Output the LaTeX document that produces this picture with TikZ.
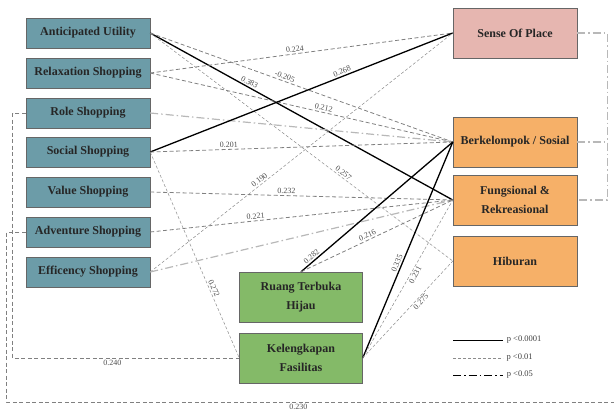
\documentclass[tikz,border=0pt]{standalone}
\usepackage{fontspec}
\setmainfont{Liberation Serif}
\usepackage{tikz}

\definecolor{tealbox}{RGB}{108,156,168}
\definecolor{pinkbox}{RGB}{230,182,176}
\definecolor{orangebox}{RGB}{246,176,104}
\definecolor{greenbox}{RGB}{132,186,104}

\begin{document}
\begin{tikzpicture}[x=1pt,y=-1pt,
    leftbox/.style={draw=black!60,fill=tealbox,minimum width=124pt,minimum height=30pt,
        inner sep=0pt,align=center,text=black!85,font=\bfseries\fontsize{12}{19}\selectfont},
    rightbox/.style={leftbox,minimum height=50pt},
    p1/.style={black,line width=1.3pt},
    p2/.style={black!50,line width=0.8pt,dash pattern=on 4pt off 2.5pt},
    p2thin/.style={black!45,line width=0.5pt,dash pattern=on 3pt off 2pt},
    p3/.style={black!28,line width=1.2pt,dash pattern=on 8pt off 3pt on 1.5pt off 3pt},
    lbl/.style={font=\fontsize{8}{9}\selectfont,text=black!70,sloped,inner sep=1.5pt}]

    \useasboundingbox (0,0) rectangle (614,418);

    % Place the shopping motives
    \node[leftbox] (au)  at (88,33)  {Anticipated Utility};
    \node[leftbox] (rel) at (88,73)  {Relaxation Shopping};
    \node[leftbox] (rol) at (88,113) {Role Shopping};
    \node[leftbox] (soc) at (88,152) {Social Shopping};
    \node[leftbox] (val) at (88,192) {Value Shopping};
    \node[leftbox] (adv) at (88,232) {Adventure Shopping};
    \node[leftbox] (eff) at (88,272) {Efficency Shopping};

    % Place the outcomes
    \node[rightbox,fill=pinkbox]   (sop)  at (515,33)  {Sense Of Place};
    \node[rightbox,fill=orangebox] (berk) at (515,142) {Berkelompok / Sosial};
    \node[rightbox,fill=orangebox] (fung) at (515,200) {Fungsional \&\\ Rekreasional};
    \node[rightbox,fill=orangebox] (hib)  at (515,261) {Hiburan};

    % Place the physical factors
    \node[rightbox,fill=greenbox,minimum width=123pt] (rth) at (301,297) {Ruang Terbuka\\ Hijau};
    \node[rightbox,fill=greenbox,minimum width=123pt] (kel) at (301,358) {Kelengkapan\\ Fasilitas};

    % Draw the paths
    \draw[p1] (au.east) -- (fung.west) node[lbl,pos=0.32,above] {0.383};
    \draw[p2] (au.east) -- (berk.west) node[lbl,pos=0.44,above] {-0.205};
    \draw[p2thin] (au.east) -- (hib.west) node[lbl,pos=0.63,above] {0.257};
    \draw[p2] (rel.east) -- (sop.west) node[lbl,pos=0.48,above] {0.224};
    \draw[p2] (rel.east) -- (berk.west) node[lbl,pos=0.57,above] {0.212};
    \draw[p3] (rol.east) -- (berk.west);
    \draw[p1] (soc.east) -- (sop.west) node[lbl,pos=0.64,above] {0.268};
    \draw[p2] (soc.east) -- (berk.west) node[lbl,pos=0.26,above] {0.201};
    \draw[p2thin] (soc.east) -- (kel.west) node[lbl,pos=0.67,above] {0.272};
    \draw[p2] (val.east) -- (fung.west) node[lbl,pos=0.45,above] {0.232};
    \draw[p2] (adv.east) -- (fung.west) node[lbl,pos=0.35,above] {0.221};
    \draw[p2thin] (eff.east) -- (sop.west) node[lbl,pos=0.37,above] {0.190};
    \draw[p3] (eff.east) -- (fung.west);
    \draw[p1] (rth.north) -- (berk.west) node[lbl,pos=0.09,above] {0.282};
    \draw[p2] (rth.north) -- (fung.west) node[lbl,pos=0.45,above] {0.216};
    \draw[p1] (kel.east) -- (berk.west) node[lbl,pos=0.43,above] {0.335};
    \draw[p2thin] (kel.east) -- (fung.west) node[lbl,pos=0.54,below] {0.231};
    \draw[p2thin] (kel.east) -- (hib.west) node[lbl,pos=0.61,below] {0.275};

    % Draw the loops round the sides
    \coordinate (edge) at (614,402);
    \draw[p2] (rol.west) -- ++(-13,0) |- (kel.west) node[lbl,pos=0.72,below] {0.240};
    \draw[p2] (adv.west) -- ++(-19,0) |- (edge) node[lbl,pos=0.74,below] {0.230};
    \draw[p3] (sop.east) -- ++(30,0) |- (fung.east);
    \draw[p3] (berk.east) -- ++(30,0);

    % Legend
    \draw[p1,line width=1pt] (453,340) -- ++(50,0) node[right,font=\fontsize{8.5}{9}\selectfont,text=black!75] {p <0.0001};
    \draw[p2thin] (453,358) -- ++(50,0) node[right,font=\fontsize{8.5}{9}\selectfont,text=black!75] {p <0.01};
    \draw[black,line width=1pt,dash pattern=on 8pt off 3pt on 1.5pt off 3pt] (453,375) -- ++(50,0) node[right,font=\fontsize{8.5}{9}\selectfont,text=black!75] {p <0.05};

\end{tikzpicture}
\end{document}
